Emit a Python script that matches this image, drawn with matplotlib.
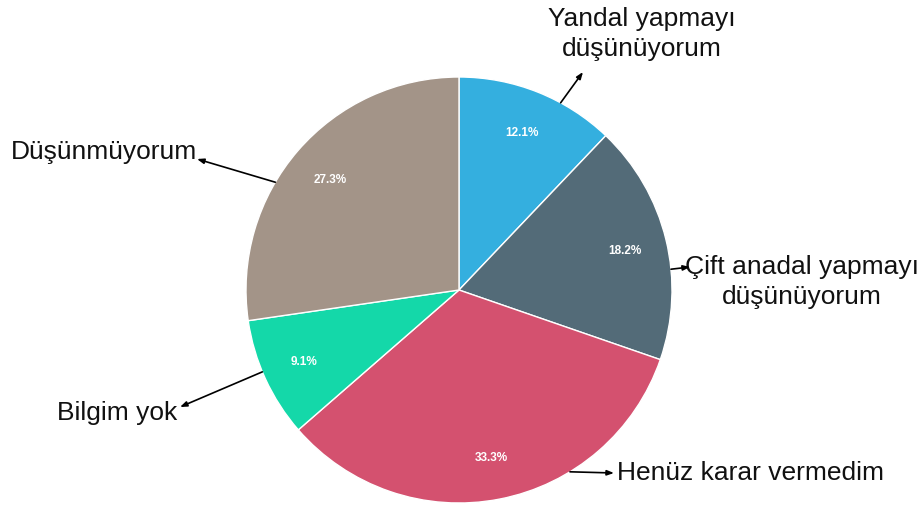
import numpy as np
import matplotlib.pyplot as plt

plt.rcParams['font.family'] = ['Liberation Sans', 'DejaVu Sans']

labels = ['Yandal yapmayı\ndüşünüyorum', 'Çift anadal yapmayı\ndüşünüyorum',
          'Henüz karar vermedim', 'Bilgim yok', 'Düşünmüyorum']
values = [12.1, 18.2, 33.3, 9.1, 27.3]
colors = ['#34AFDF', '#536B78', '#D4516F', '#14D8A9', '#A39488']

# label text position (pixels), arrow angle on pie edge (deg), text alignment
text_pos = [(642, 34), (802, 282), (617, 473), (117, 413), (104, 152)]
edge_ang = [61.5, 5.6, -58.6, 202.6, 149.6]
arrow_end = [(583, 73), (690, 268), (614, 474), (180, 408), (197, 160)]
ha = ['center', 'center', 'left', 'center', 'center']

W, H = 923, 506
cx, cy, r = 459, 291, 213

fig = plt.figure(figsize=(W / 100, H / 100), dpi=100)
ax = fig.add_axes([0, 0, 1, 1])
ax.axis('off')

wedges, texts, autotexts = ax.pie(
    values, colors=colors, startangle=90, counterclock=False,
    center=(cx, H - cy), radius=r, autopct='%1.1f%%', pctdistance=0.8,
    wedgeprops=dict(edgecolor='white', linewidth=1),
    textprops=dict(color='white', fontsize=8.5, fontweight='bold'))
ax.set_xlim(0, W)
ax.set_ylim(0, H)
ax.set_aspect('equal')

for lab, tp, ang, ae, h in zip(labels, text_pos, edge_ang, arrow_end, ha):
    a = np.deg2rad(ang)
    tail = (cx + r * np.cos(a), H - cy + r * np.sin(a))
    ax.text(tp[0], H - tp[1], lab, ha=h, va='center', fontsize=19,
            color='#111111', linespacing=1.3)
    ax.annotate('', xy=(ae[0], H - ae[1]), xytext=tail,
                arrowprops=dict(arrowstyle='-|>,head_length=0.4,head_width=0.15',
                                color='black', lw=1.2, shrinkA=0, shrinkB=0))

fig.savefig('out.png', dpi=100, facecolor='white')
